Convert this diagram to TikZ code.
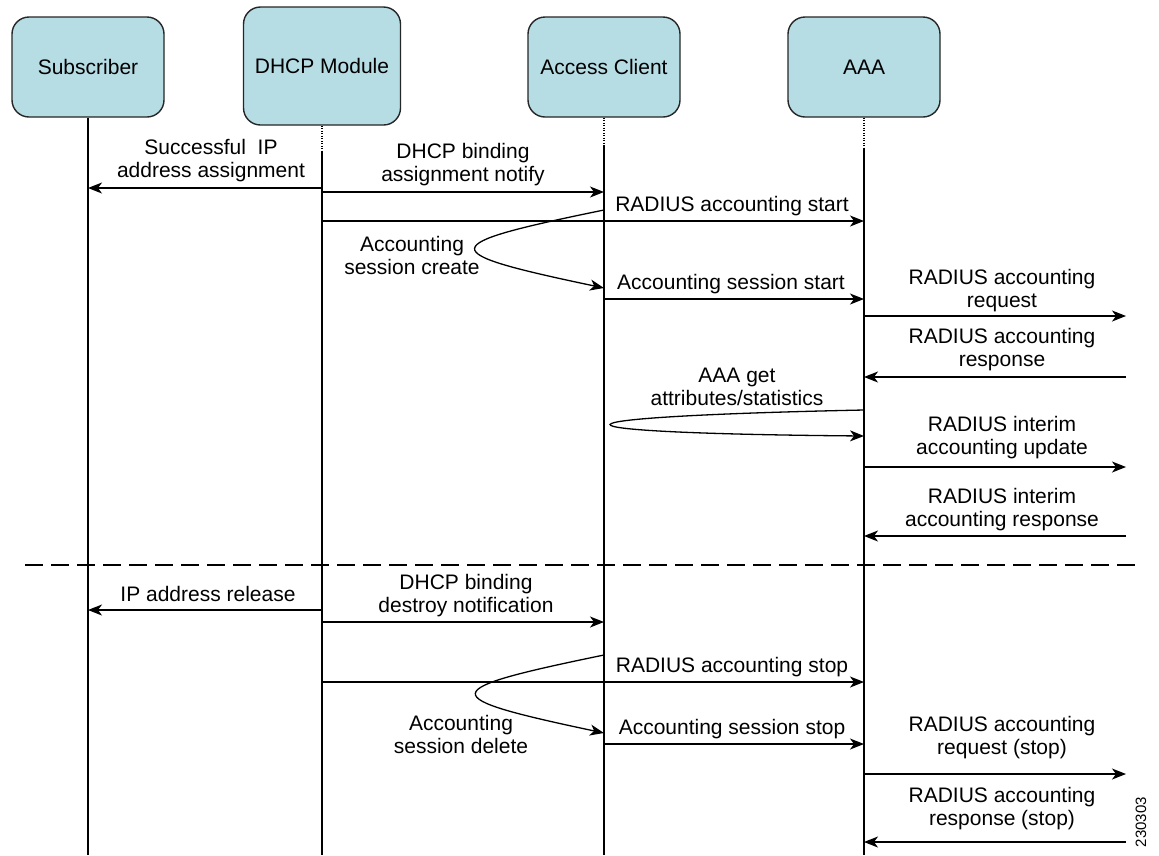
\documentclass[tikz,border=0pt]{standalone}
\usepackage{fontspec}
\setmainfont{Liberation Sans}
\usetikzlibrary{arrows.meta}
\definecolor{boxblue}{RGB}{182,220,228}
\begin{document}
\begin{tikzpicture}[x=1pt,y=-1pt,
  actor/.style={draw=black!85, line width=1.4pt, fill=boxblue, rounded corners=17pt,
    minimum width=152pt, minimum height=100pt, inner sep=0pt,
    font=\fontsize{21}{24}\selectfont},
  life/.style={line width=2pt},
  lifedot/.style={line width=1.5pt, dash pattern=on 1pt off 1.5pt},
  msg/.style={line width=1.3pt, -{Stealth[length=14pt,width=11pt,inset=4pt]}},
  lbl/.style={align=center, inner sep=0pt, text depth=0pt, anchor=south,
    font=\fontsize{21}{23.5}\selectfont},
  sep/.style={line width=2pt, dash pattern=on 18pt off 8pt}]
\useasboundingbox (0,0) rectangle (1159,855);

% actors
\node[actor] (sub) at (88,67) {Subscriber};
\node[actor, minimum width=157pt, minimum height=118pt] (dhcp) at (322,66) {DHCP Module};
\node[actor] (acc) at (604,67) {Access Client};
\node[actor] (aaa) at (864,67) {AAA};

% lifelines
\draw[life] (sub) -- (sub |- 0,855);
\draw[lifedot] (dhcp) -- (dhcp |- 0,152);
\draw[life] (dhcp |- 0,152) -- (dhcp |- 0,855);
\draw[lifedot] (acc) -- (acc |- 0,145);
\draw[life] (acc |- 0,145) -- (acc |- 0,855);
\draw[lifedot] (aaa) -- (aaa |- 0,148);
\draw[life] (aaa |- 0,148) -- (aaa |- 0,855);

% right-hand free ends
\coordinate (r1) at (1126,316);
\coordinate (r2) at (1126,377);
\coordinate (r3) at (1126,467);
\coordinate (r4) at (1126,536);
\coordinate (r5) at (1126,774);
\coordinate (r6) at (1126,842);

% --- upper part
\draw[msg] (dhcp |- 0,188) -- (sub |- 0,188);
\node[lbl] (t1) at (211,178) {Successful~ IP\\address assignment};

\draw[msg] (dhcp |- 0,192) -- (acc |- 0,192);
\node[lbl] (t2) at (463,182) {DHCP binding\\assignment notify};

\draw[msg] (dhcp |- 0,221) -- (aaa |- 0,221);
\node[lbl] (t3) at (732,212) {RADIUS accounting start};

\draw[msg] (acc |- 0,210) .. controls (433,245) and (433,252) .. (acc |- 0,288);
\node[lbl] (t4) at (412,275) {Accounting\\session create};

\draw[msg] (acc |- 0,299) -- (aaa |- 0,299);
\node[lbl] (t5) at (731,290) {Accounting session start};

\draw[msg] (aaa |- r1) -- (r1);
\node[lbl] (t6) at (1002,308) {RADIUS accounting\\request};

\draw[msg] (r2) -- (aaa |- r2);
\node[lbl] (t7) at (1002,367) {RADIUS accounting\\response};

\draw[msg] (aaa |- 0,410) .. controls (527,417) and (527,433) .. (aaa |- 0,436);
\node[lbl] (t8) at (737,406) {AAA get\\attributes/statistics};

\draw[msg] (aaa |- r3) -- (r3);
\node[lbl] (t9) at (1002,455) {RADIUS interim\\accounting update};

\draw[msg] (r4) -- (aaa |- r4);
\node[lbl] (t10) at (1002,527) {RADIUS interim\\accounting response};

% separator
\coordinate (sepL) at (25,565);
\coordinate (sepR) at (1135,565);
\draw[sep] (sepL) -- (sepR);

% --- lower part
\draw[msg] (dhcp |- 0,610) -- (sub |- 0,610);
\node[lbl] (t11) at (208,602) {IP address release};

\draw[msg] (dhcp |- 0,622) -- (acc |- 0,622);
\node[lbl] (t12) at (466,613) {DHCP binding\\destroy notification};

\draw[msg] (acc |- 0,655) .. controls (434,690) and (434,697) .. (acc |- 0,733);
\node[lbl] (t13) at (461,754) {Accounting\\session delete};

\draw[msg] (dhcp |- 0,682) -- (aaa |- 0,682);
\node[lbl] (t14) at (732,673) {RADIUS accounting stop};

\draw[msg] (acc |- 0,744) -- (aaa |- 0,744);
\node[lbl] (t15) at (732,735) {Accounting session stop};

\draw[msg] (aaa |- r5) -- (r5);
\node[lbl] (t16) at (1002,755) {RADIUS accounting\\request (stop)};

\draw[msg] (r6) -- (aaa |- r6);
\node[lbl] (t17) at (1002,826) {RADIUS accounting\\response (stop)};

\node[rotate=90, inner sep=0pt, font=\fontsize{15}{18}\selectfont] (fig) at (1141,822) {230303};
\end{tikzpicture}
\end{document}
